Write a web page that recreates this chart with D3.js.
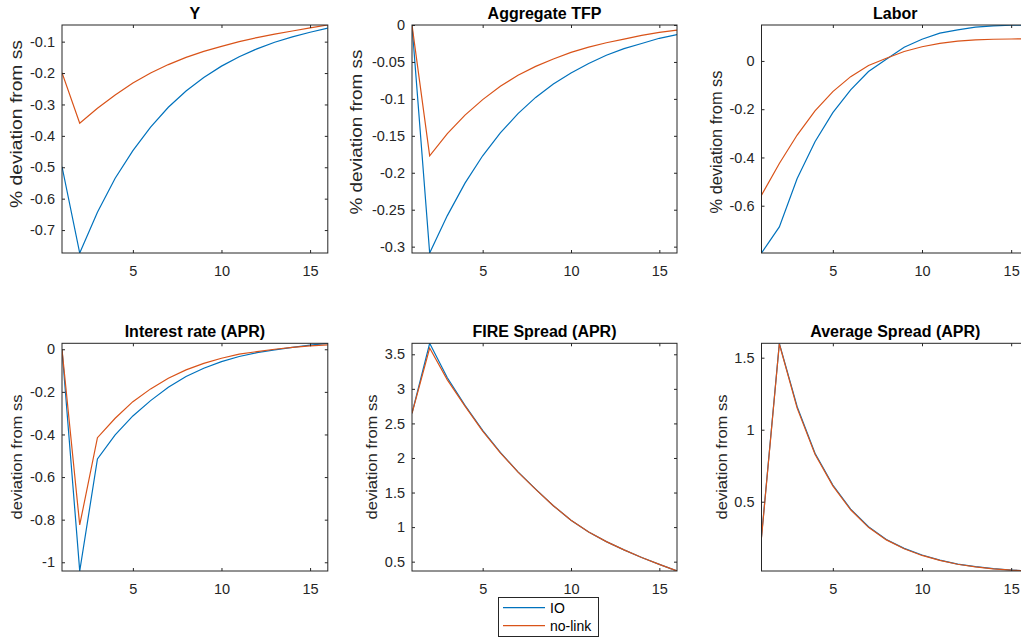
<!DOCTYPE html>
<html>
<head>
<meta charset="utf-8">
<script src="https://cdn.jsdelivr.net/npm/d3@7"></script>
<style>
  html, body { margin: 0; padding: 0; background: #ffffff; }
  svg { display: block; font-family: "Liberation Sans", Arial, Helvetica, sans-serif; }
</style>
</head>
<body>
<svg id="chart" width="1021" height="638"></svg>
<script>
// ---------------- data ----------------
const periods = [1, 2, 3, 4, 5, 6, 7, 8, 9, 10, 11, 12, 13, 14, 15, 16];
const seriesNames = ["IO", "no-link"];
const xTicks = [5, 10, 15];

const yIO    = [-0.498, -0.773, -0.643, -0.535, -0.447, -0.372, -0.309, -0.257, -0.214, -0.178, -0.148, -0.123, -0.102, -0.085, -0.070, -0.057];
const yNL    = [-0.199, -0.360, -0.312, -0.270, -0.232, -0.200, -0.173, -0.150, -0.131, -0.115, -0.100, -0.087, -0.076, -0.066, -0.056, -0.047];

const tfpIO  = [0, -0.3086, -0.258, -0.214, -0.177, -0.146, -0.120, -0.098, -0.080, -0.065, -0.052, -0.041, -0.032, -0.025, -0.018, -0.013];
const tfpNL  = [0, -0.177, -0.147, -0.122, -0.101, -0.083, -0.068, -0.056, -0.046, -0.037, -0.030, -0.024, -0.019, -0.014, -0.010, -0.007];

const laborIO = [-0.796, -0.688, -0.487, -0.335, -0.214, -0.120, -0.044, 0.007, 0.057, 0.090, 0.115, 0.129, 0.140, 0.145, 0.148, 0.149];
const laborNL = [-0.556, -0.425, -0.307, -0.207, -0.127, -0.065, -0.019, 0.011, 0.039, 0.059, 0.073, 0.082, 0.087, 0.090, 0.091, 0.092];

const rateIO = [0, -1.041, -0.515, -0.402, -0.313, -0.241, -0.178, -0.128, -0.089, -0.058, -0.034, -0.016, -0.003, 0.009, 0.019, 0.028];
const rateNL = [0, -0.825, -0.415, -0.324, -0.246, -0.186, -0.136, -0.097, -0.066, -0.042, -0.023, -0.011, 0.000, 0.009, 0.016, 0.021];

const fireIO = [2.647, 3.659, 3.16, 2.76, 2.40, 2.08, 1.80, 1.55, 1.31, 1.10, 0.93, 0.79, 0.67, 0.56, 0.46, 0.365];
const fireNL = [2.647, 3.590, 3.13, 2.75, 2.39, 2.075, 1.795, 1.545, 1.31, 1.10, 0.93, 0.79, 0.67, 0.56, 0.46, 0.365];

const avgIO  = [0.257, 1.600, 1.16, 0.836, 0.616, 0.449, 0.326, 0.238, 0.176, 0.130, 0.095, 0.067, 0.049, 0.035, 0.026, 0.019];
const avgNL  = [0.250, 1.595, 1.15, 0.830, 0.610, 0.444, 0.322, 0.235, 0.173, 0.127, 0.093, 0.066, 0.048, 0.034, 0.025, 0.019];

const titles  = ["Y", "Aggregate TFP", "Labor", "Interest rate (APR)", "FIRE Spread (APR)", "Average Spread (APR)"];
const ylabels = ["% deviation from ss", "% deviation from ss", "% deviation from ss", "deviation from ss", "deviation from ss", "deviation from ss"];

const yTicksY     = [-0.7, -0.6, -0.5, -0.4, -0.3, -0.2, -0.1];
const yTicksTFP   = [-0.3, -0.25, -0.2, -0.15, -0.1, -0.05, 0];
const yTicksLabor = [-0.6, -0.4, -0.2, 0];
const yTicksRate  = [-1, -0.8, -0.6, -0.4, -0.2, 0];
const yTicksFire  = [0.5, 1, 1.5, 2, 2.5, 3, 3.5];
const yTicksAvg   = [0.5, 1, 1.5];

// ---------------- layout / style ----------------
const colors = ["#0072BD", "#D95319"];
const axisColor = "#262626";

const layout = [
  { left: 62,    top: 25,    w: 265.8, h: 228,   lx: 21.5,  ly: 124, llen: 168, lsize: 16 },
  { left: 412,   top: 25,    w: 265,   h: 228,   lx: 361.5, ly: 132, llen: 165, lsize: 16 },
  { left: 761.5, top: 25,    w: 267.5, h: 228,   lx: 721.5, ly: 142, llen: 143, lsize: 16 },
  { left: 62,    top: 343.3, w: 265.8, h: 227.7, lx: 21.5,  ly: 457, llen: 125, lsize: 15 },
  { left: 412,   top: 343.3, w: 265,   h: 227.7, lx: 376.5, ly: 457, llen: 125, lsize: 15 },
  { left: 761.5, top: 343.3, w: 267.5, h: 227.7, lx: 726.5, ly: 457, llen: 125, lsize: 15 }
];

const panelSeries = [[yIO, yNL], [tfpIO, tfpNL], [laborIO, laborNL], [rateIO, rateNL], [fireIO, fireNL], [avgIO, avgNL]];
const panelTicks = [yTicksY, yTicksTFP, yTicksLabor, yTicksRate, yTicksFire, yTicksAvg];

const svg = d3.select("#chart");
const fmt = v => String(+(+v).toFixed(4));

panelSeries.forEach((series, i) => {
  const L = layout[i];
  const x = d3.scaleLinear().domain([1, 16]).range([L.left, L.left + L.w]);
  const all = series[0].concat(series[1]);
  const y = d3.scaleLinear().domain(d3.extent(all)).range([L.top + L.h, L.top]);

  const g = svg.append("g");

  // clip
  const cid = "clip" + i;
  svg.append("clipPath").attr("id", cid)
    .append("rect").attr("x", L.left).attr("y", L.top).attr("width", L.w).attr("height", L.h);

  // lines
  const line = d3.line().x((d, j) => x(periods[j])).y(d => y(d));
  series.forEach((s, k) => {
    g.append("path")
      .datum(s)
      .attr("clip-path", `url(#${cid})`)
      .attr("fill", "none")
      .attr("stroke", colors[k])
      .attr("stroke-width", 1.2)
      .attr("stroke-linejoin", "miter")
      .attr("d", line);
  });

  // axes
  const styleAxis = sel => {
    sel.select(".domain").remove();
    sel.selectAll(".tick line").attr("stroke", axisColor).attr("stroke-width", 1);
    sel.selectAll(".tick text").attr("fill", axisColor).attr("font-size", 14.5)
       .attr("font-family", "'Liberation Sans', Arial, sans-serif");
  };
  g.append("g").attr("transform", `translate(0,${L.top + L.h})`)
    .call(d3.axisBottom(x).tickValues(xTicks).tickSize(-3).tickPadding(13).tickFormat(fmt))
    .call(styleAxis);
  g.append("g").attr("transform", `translate(0,${L.top})`)
    .call(d3.axisTop(x).tickValues(xTicks).tickSize(-3).tickFormat(""))
    .call(styleAxis);
  g.append("g").attr("transform", `translate(${L.left},0)`)
    .call(d3.axisLeft(y).tickValues(panelTicks[i]).tickSize(-3).tickPadding(7).tickFormat(fmt))
    .call(styleAxis);
  g.append("g").attr("transform", `translate(${L.left + L.w},0)`)
    .call(d3.axisRight(y).tickValues(panelTicks[i]).tickSize(-3).tickFormat(""))
    .call(styleAxis);

  // box
  g.append("rect")
    .attr("x", L.left).attr("y", L.top).attr("width", L.w).attr("height", L.h)
    .attr("fill", "none").attr("stroke", axisColor).attr("stroke-width", 1);

  // title
  g.append("text")
    .attr("x", L.left + L.w / 2).attr("y", L.top - 6.5)
    .attr("text-anchor", "middle")
    .attr("font-weight", "bold").attr("font-size", 16)
    .attr("fill", "#000")
    .text(titles[i]);

  // y label
  g.append("text")
    .attr("transform", `translate(${L.lx},${L.ly}) rotate(-90)`)
    .attr("text-anchor", "middle")
    .attr("font-size", L.lsize)
    .attr("fill", axisColor)
    .attr("textLength", L.llen)
    .attr("lengthAdjust", "spacingAndGlyphs")
    .text(ylabels[i]);
});

// legend
const lg = svg.append("g");
lg.append("rect").attr("x", 498.5).attr("y", 597.5).attr("width", 100).attr("height", 39)
  .attr("fill", "#fff").attr("stroke", axisColor).attr("stroke-width", 1);
const legY = [607.7, 625.7];
seriesNames.forEach((name, k) => {
  lg.append("line").attr("x1", 503).attr("x2", 545).attr("y1", legY[k]).attr("y2", legY[k])
    .attr("stroke", colors[k]).attr("stroke-width", 1.2);
  lg.append("text").attr("x", 550).attr("y", legY[k] + 5)
    .attr("font-size", 14).attr("fill", "#000").text(name);
});
</script>
</body>
</html>
